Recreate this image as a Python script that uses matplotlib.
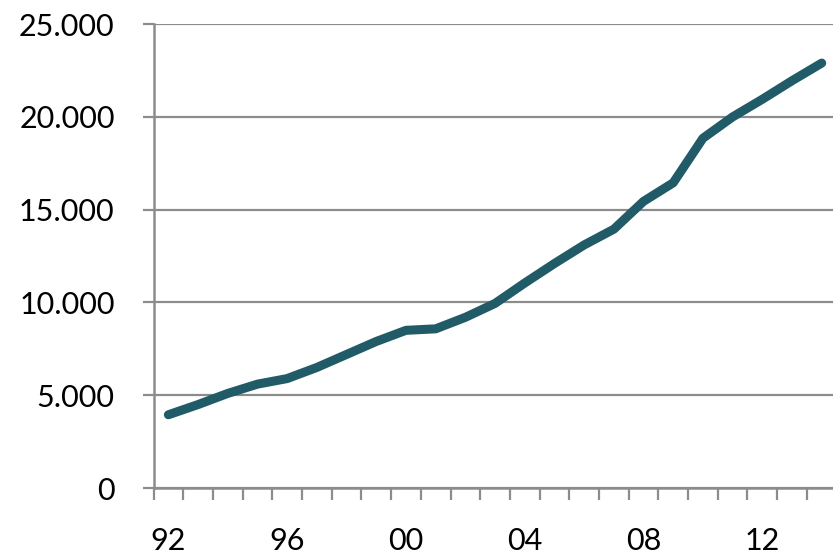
import matplotlib
matplotlib.use("Agg")
import matplotlib.pyplot as plt
from matplotlib.ticker import FuncFormatter, FixedLocator

years = ["92", "93", "94", "95", "96", "97", "98", "99", "00", "01", "02", "03",
         "04", "05", "06", "07", "08", "09", "10", "11", "12", "13", "14"]
values = [3950, 4500, 5100, 5600, 5900, 6500, 7200, 7900, 8500, 8580, 9200, 9950,
          11050, 12100, 13100, 13950, 15450, 16450, 18850, 20000, 20950, 21950, 22900]
label_years = ["92", "96", "00", "04", "08", "12"]
yticks = [0, 5000, 10000, 15000, 20000, 25000]

plt.rcParams['font.family'] = ['Lato', 'DejaVu Sans']

fig = plt.figure(figsize=(8.33, 5.54), dpi=100)
ax = fig.add_axes([0.1843, 0.119, 0.8200, 0.8375])

x = list(range(len(years)))
ax.plot(x, values, color="#215b68", lw=6.5, solid_capstyle="round", solid_joinstyle="round", zorder=3)

ax.set_xlim(-0.5, len(years) - 0.5)
ax.set_ylim(0, 25000)

grid_color = "#8c8c8c"
ax.yaxis.set_major_locator(FixedLocator(yticks))
ax.yaxis.set_major_formatter(FuncFormatter(lambda v, p: f"{int(v):,}".replace(",", ".")))
ax.grid(axis="y", color=grid_color, lw=1.6, zorder=1)
ax.set_axisbelow(True)

# category boundary ticks (unlabelled)
ax.set_xticks([i - 0.5 for i in range(len(years) + 1)], minor=True)
ax.set_xticks([years.index(y) for y in label_years])
ax.set_xticklabels(label_years)
ax.tick_params(axis="x", which="minor", length=8.5, width=1.6, color=grid_color, direction="out")
ax.tick_params(axis="x", which="major", length=0, pad=28, labelsize=22)
ax.tick_params(axis="y", which="major", length=8, width=1.6, color=grid_color, direction="out", pad=20, labelsize=22)

for s in ["top", "right"]:
    ax.spines[s].set_visible(False)
for s in ["left", "bottom"]:
    ax.spines[s].set_color(grid_color)
    ax.spines[s].set_linewidth(1.8)

fig.savefig("out.png", dpi=100)
